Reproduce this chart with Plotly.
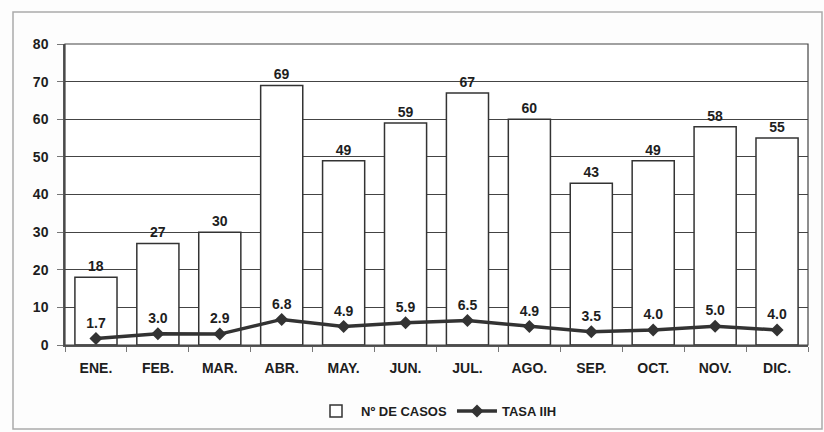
import plotly.graph_objects as go

months = ["ENE.", "FEB.", "MAR.", "ABR.", "MAY.", "JUN.", "JUL.", "AGO.", "SEP.", "OCT.", "NOV.", "DIC."]
casos = [18, 27, 30, 69, 49, 59, 67, 60, 43, 49, 58, 55]
tasa = [1.7, 3.0, 2.9, 6.8, 4.9, 5.9, 6.5, 4.9, 3.5, 4.0, 5.0, 4.0]
y_ticks = [0, 10, 20, 30, 40, 50, 60, 70, 80]

FONT = "Liberation Sans, Arial, sans-serif"
TXT = "#1e1e1e"

fig = go.Figure()
fig.add_trace(go.Bar(
    x=months, y=casos, name="Nº DE CASOS",
    marker=dict(color="white", line=dict(color="#333333", width=1.5)),
    width=0.68,
    text=[str(v) for v in casos], textposition="outside",
    textfont=dict(family=FONT, size=14, color=TXT, weight="bold"),
    cliponaxis=False,
))
fig.add_trace(go.Scatter(
    x=months, y=tasa, name="TASA IIH", mode="lines+markers+text",
    line=dict(color="#333333", width=3.5),
    marker=dict(symbol="diamond", size=10, color="#333333"),
    text=[f"{v:.1f}" for v in tasa], textposition="top center",
    textfont=dict(family=FONT, size=14, color=TXT, weight="bold"),
    cliponaxis=False,
))

fig.update_layout(
    width=824, height=432,
    margin=dict(l=65, r=16, t=44, b=87),
    paper_bgcolor="#fdfdfd", plot_bgcolor="white",
    font=dict(family=FONT, size=14, color=TXT, weight="bold"),
    showlegend=True,
    legend=dict(orientation="h", x=0.5, xanchor="center",
                yref="container", y=(432 - 411) / 432, yanchor="middle",
                font=dict(family=FONT, size=13, color=TXT, weight="bold"),
                bgcolor="rgba(0,0,0,0)", itemwidth=40),
    xaxis=dict(
        range=[-0.5, 11.5], automargin=False,
        tickfont=dict(family=FONT, size=14, color=TXT, weight="bold"),
        showline=True, linecolor="#555555", linewidth=1.5,
        ticks="outside", tickson="boundaries", ticklen=5, tickcolor="#777777",
        ticklabelstandoff=9,
        showgrid=False, mirror=False,
    ),
    yaxis=dict(
        range=[0, 80], tickvals=y_ticks, automargin=False,
        tickfont=dict(family=FONT, size=14, color=TXT, weight="bold"),
        showgrid=True, gridcolor="#444444", gridwidth=1,
        showline=True, linecolor="#555555", linewidth=1.5,
        ticks="outside", ticklen=6, tickcolor="#777777",
        ticklabelstandoff=6,
        zeroline=False, mirror=False,
    ),
    shapes=[
        dict(type="rect", xref="paper", yref="paper", x0=0, x1=1, y0=0, y1=1,
             line=dict(color="#444444", width=1.2)),
    ],
)
# Outer frame around the whole chart
fig.add_shape(type="rect", xref="paper", yref="paper",
              x0=(13 - 65) / 743, x1=(822 - 65) / 743,
              y0=(345 - 429) / 301, y1=(345 - 12) / 301,
              line=dict(color="#aaaaaa", width=1.5), layer="below")

fig.write_html("out.html")
